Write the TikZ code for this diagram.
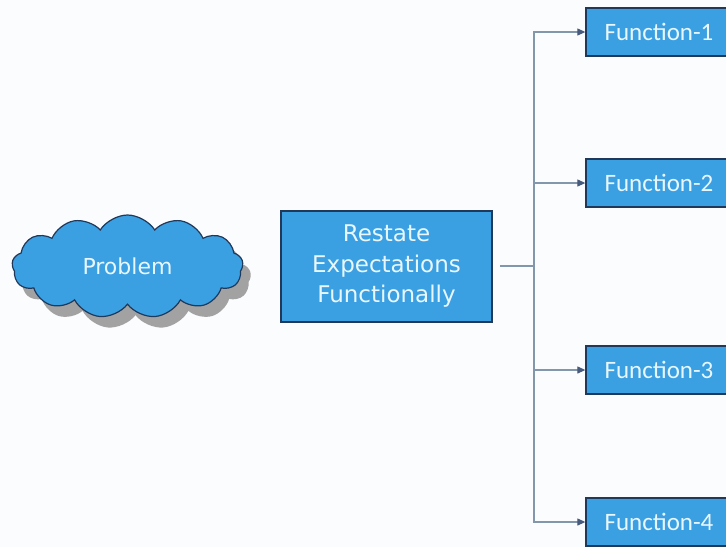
\documentclass[tikz,border=0pt]{standalone}
\usepackage{fontspec}
\setmainfont{Carlito}
\newfontfamily\comicish{DejaVu Sans}
\usetikzlibrary{shapes.symbols,shadows,arrows.meta}
\definecolor{boxblue}{RGB}{58,160,226}
\definecolor{boxline}{RGB}{32,56,90}
\definecolor{txtpale}{RGB}{232,247,255}
\definecolor{conn}{RGB}{130,150,172}
\definecolor{tipc}{RGB}{70,90,125}
\definecolor{bgc}{RGB}{251,252,254}
\tikzset{
  fbox/.style={draw=boxline, line width=1.3pt, fill=boxblue, text=txtpale,
    minimum width=146pt, minimum height=48pt, inner sep=0pt,
    font=\fontsize{25}{28}\selectfont},
  conline/.style={draw=conn, line width=1.1pt},
  arrowline/.style={conline, -{Triangle[length=8pt,width=7pt,color=tipc]}}
}
\begin{document}
\begin{tikzpicture}[x=1pt,y=-1pt]
\fill[bgc] (0,0) rectangle (726,547);
\useasboundingbox (0,0) rectangle (726,547);
\clip (0,0) rectangle (726,547);
\node[cloud, cloud puffs=13, cloud puff arc=115, cloud ignores aspect,
      minimum width=231pt, minimum height=103pt, inner sep=0pt,
      draw=boxline, line width=1.2pt, fill=boxblue, text=txtpale,
      drop shadow={shadow xshift=8pt, shadow yshift=-11pt, fill=gray!80, opacity=0.9},
      font=\comicish\fontsize{22}{24}\selectfont] (prob) at (127.5,266.5) {Problem};
\node[draw=boxline, line width=1.3pt, fill=boxblue, text=txtpale,
      minimum width=211pt, minimum height=111pt, inner sep=0pt, align=center,
      font=\comicish\fontsize{23}{30.5}\selectfont] (rest) at (386.5,266.5)
      {Restate\\Expectations\\Functionally};
\node[fbox] (f1) at (659,32) {Function-1};
\node[fbox] (f2) at (659,183) {Function-2};
\node[fbox] (f3) at (659,370) {Function-3};
\node[fbox] (f4) at (659,522) {Function-4};
\coordinate (s) at (500,266);
\coordinate (j) at (534,266);
\draw[conline] (s) -- (j);
\draw[arrowline] (j) |- (f1);
\draw[arrowline] (j) |- (f2);
\draw[arrowline] (j) |- (f3);
\draw[arrowline] (j) |- (f4);
\end{tikzpicture}
\end{document}
